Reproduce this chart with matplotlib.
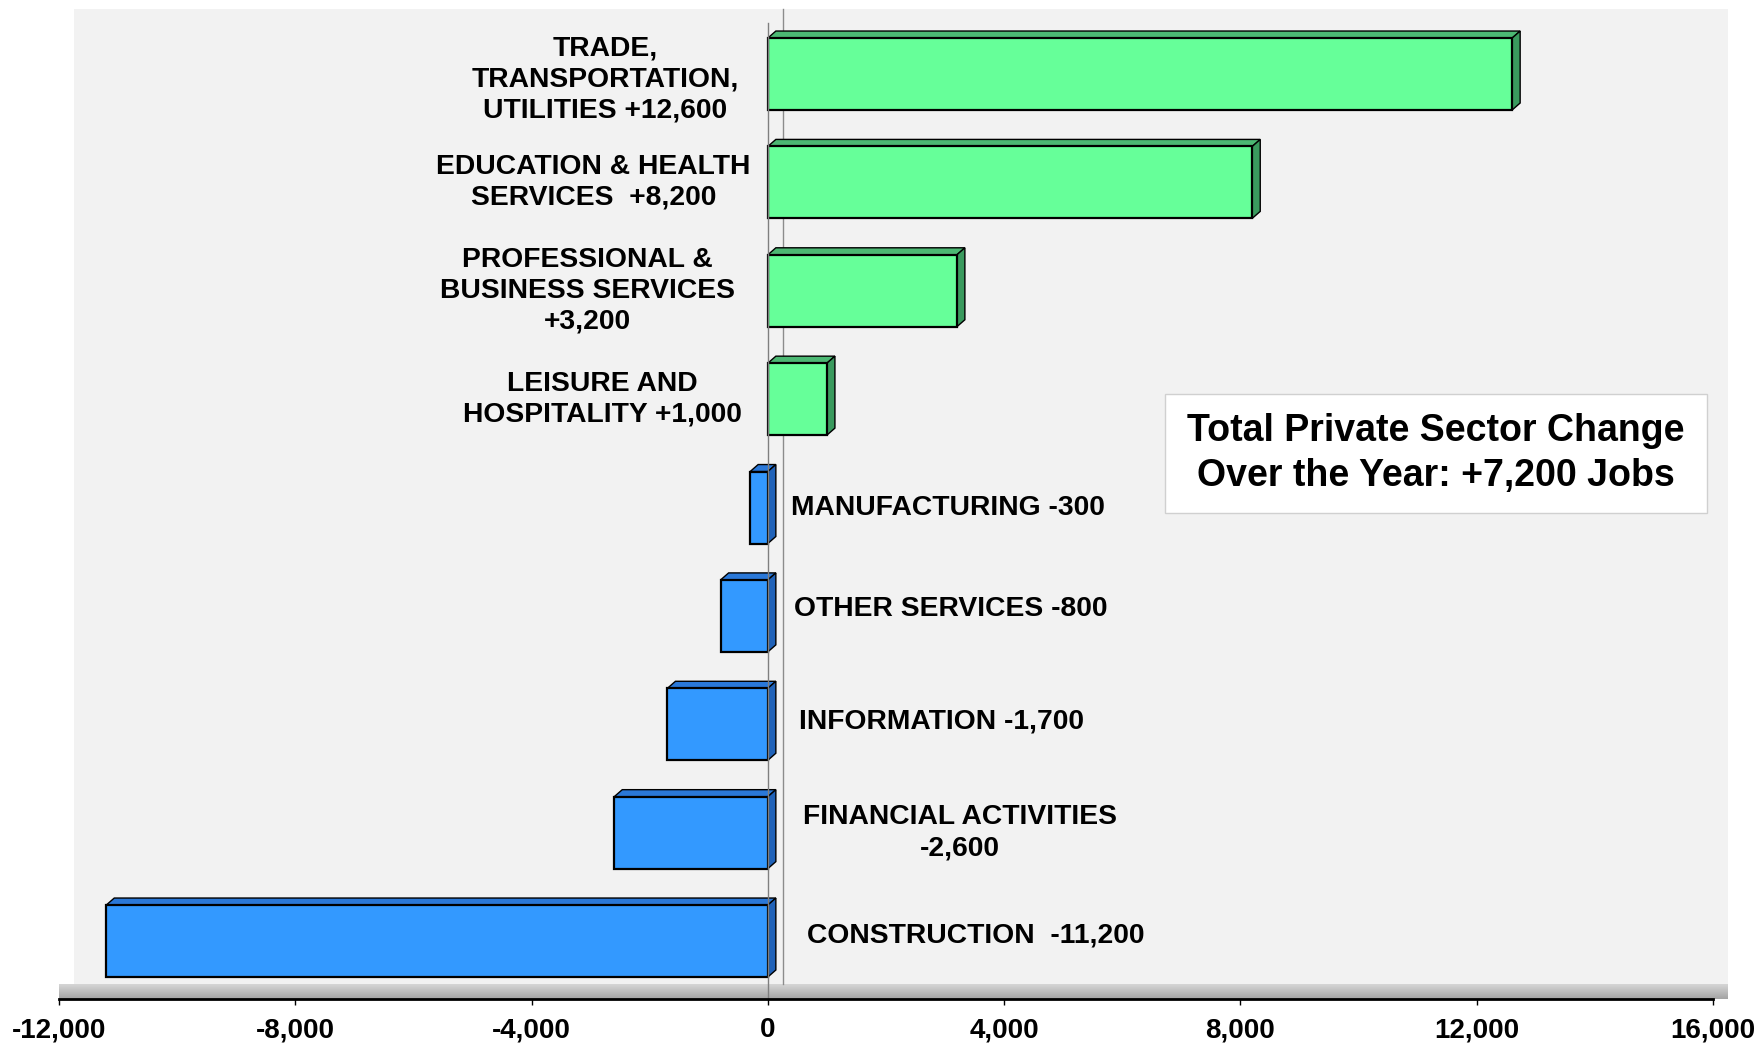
import matplotlib
matplotlib.use('Agg')
import matplotlib.pyplot as plt
from matplotlib.patches import Polygon, Rectangle
from matplotlib import font_manager
import numpy as np

# Data (bottom to top)
sectors = [
    'CONSTRUCTION  -11,200',
    'FINANCIAL ACTIVITIES\n-2,600',
    'INFORMATION -1,700',
    'OTHER SERVICES -800',
    'MANUFACTURING -300',
    'LEISURE AND\nHOSPITALITY +1,000',
    'PROFESSIONAL &\nBUSINESS SERVICES\n+3,200',
    'EDUCATION & HEALTH\nSERVICES  +8,200',
    'TRADE,\nTRANSPORTATION,\nUTILITIES +12,600',
]
changes = [-11200, -2600, -1700, -800, -300, 1000, 3200, 8200, 12600]
xticks = [-12000, -8000, -4000, 0, 4000, 8000, 12000, 16000]
note = 'Total Private Sector Change\nOver the Year: +7,200 Jobs'

# label anchors (data units)
label_x = [660, 592, 525, 440, 400, -2800, -3050, -2950, -2750]
label_dy = [0.05, 0, 0.03, 0.06, 0, 0, 0, 0, -0.05]

W, H = 1763, 1043
fig = plt.figure(figsize=(W / 100, H / 100), dpi=100)
fig.patch.set_facecolor('white')

names = {f.name for f in font_manager.fontManager.ttflist}
tick_font = 'Liberation Sans Narrow' if 'Liberation Sans Narrow' in names else 'Liberation Sans'
main_font = 'Liberation Sans'

left_px, right_px, bottom_px = 59, 1713, 999
ax = fig.add_axes([left_px / W, (H - bottom_px) / H, (right_px - left_px) / W, bottom_px / H])
ax.set_xlim(-12000, 16000)
ymin, ymax = -0.535, 8.683
ax.set_ylim(ymin, ymax)
ax.patch.set_alpha(0)

# pixel -> data conversion
ux = 28000 / (right_px - left_px)
uy = (ymax - ymin) / bottom_px

# back wall
wdx, wdy = 15 * ux, 15 * uy
wall = Rectangle((-12000 + wdx, ymin + wdy), 28000, 8.6 - (ymin + wdy),
                 facecolor='#f2f2f2', edgecolor='none', zorder=0, clip_on=False)
ax.add_patch(wall)

# floor with gradient
floor_pts = [(-12000, ymin), (16000, ymin), (16000 + wdx, ymin + wdy), (-12000 + wdx, ymin + wdy)]
floor = Polygon(floor_pts, closed=True, facecolor='none', edgecolor='none', clip_on=False)
ax.add_patch(floor)
grad = np.linspace(0, 1, 50).reshape(-1, 1)
im = ax.imshow(grad, cmap=matplotlib.colors.LinearSegmentedColormap.from_list('fl', ['#a4a4a4', '#d6d6d6']),
               extent=(-12000, 16000 + wdx, ymin, ymin + wdy), origin='lower', aspect='auto',
               zorder=1, clip_on=False)
im.set_clip_path(floor)

# back zero line
ax.plot([wdx, wdx], [ymin + wdy, 8.6], color='#8c8c8c', lw=1, zorder=1, clip_on=False)

# bars
bh = 0.664
bdx, bdy = 8 * ux, 7 * uy
for i, v in enumerate(changes):
    pos = v > 0
    front = '#66ff99' if pos else '#3399ff'
    top_c = '#4cb873' if pos else '#2a78d8'
    side_c = '#3a9a5e' if pos else '#2062b8'
    x0, x1 = min(0, v), max(0, v)
    yb, yt = i - bh / 2, i + bh / 2
    ax.barh(i, v, height=bh, color=front, edgecolor='black', linewidth=1.6, zorder=3)
    ax.add_patch(Polygon([(x0, yt), (x1, yt), (x1 + bdx, yt + bdy), (x0 + bdx, yt + bdy)],
                         closed=True, facecolor=top_c, edgecolor='black', lw=1, zorder=2))
    ax.add_patch(Polygon([(x1, yb), (x1 + bdx, yb + bdy), (x1 + bdx, yt + bdy), (x1, yt)],
                         closed=True, facecolor=side_c, edgecolor='black', lw=1, zorder=2))

# front zero line
ax.plot([0, 0], [ymin, 8.47], color='#7f7f7f', lw=1, zorder=4)

# category labels
for i, (txt, v) in enumerate(zip(sectors, changes)):
    ha = 'center' if v > 0 else 'left'
    ax.text(label_x[i], i + label_dy[i], txt, ha=ha, va='center', multialignment='center',
            fontsize=20.3, fontweight='bold', family=main_font, linespacing=1.25, zorder=5)

# note box
ax.add_patch(Rectangle(((1165 - 768) * ux, 8 - (513 - 74) * uy), (1707 - 1165) * ux, (513 - 394) * uy,
                       facecolor='white', edgecolor='#d0d0d0', lw=1, zorder=5))
ax.text((1436 - 768) * ux, 8 - (453.5 - 74) * uy, note, ha='center', va='center',
        fontsize=27, fontweight='bold', family=main_font, linespacing=1.3, zorder=6)

# axes styling
for s in ['top', 'right', 'left']:
    ax.spines[s].set_visible(False)
ax.spines['bottom'].set_linewidth(2)
ax.spines['bottom'].set_zorder(6)
ax.set_yticks([])
ax.set_xticks(xticks)
ax.set_xticklabels([f'{t:,}' for t in xticks])
ax.tick_params(axis='x', length=4, width=1, pad=9, labelsize=20)
for lab in ax.get_xticklabels():
    lab.set_fontweight('bold')
    lab.set_family(tick_font)

fig.savefig('out.png', dpi=100)
